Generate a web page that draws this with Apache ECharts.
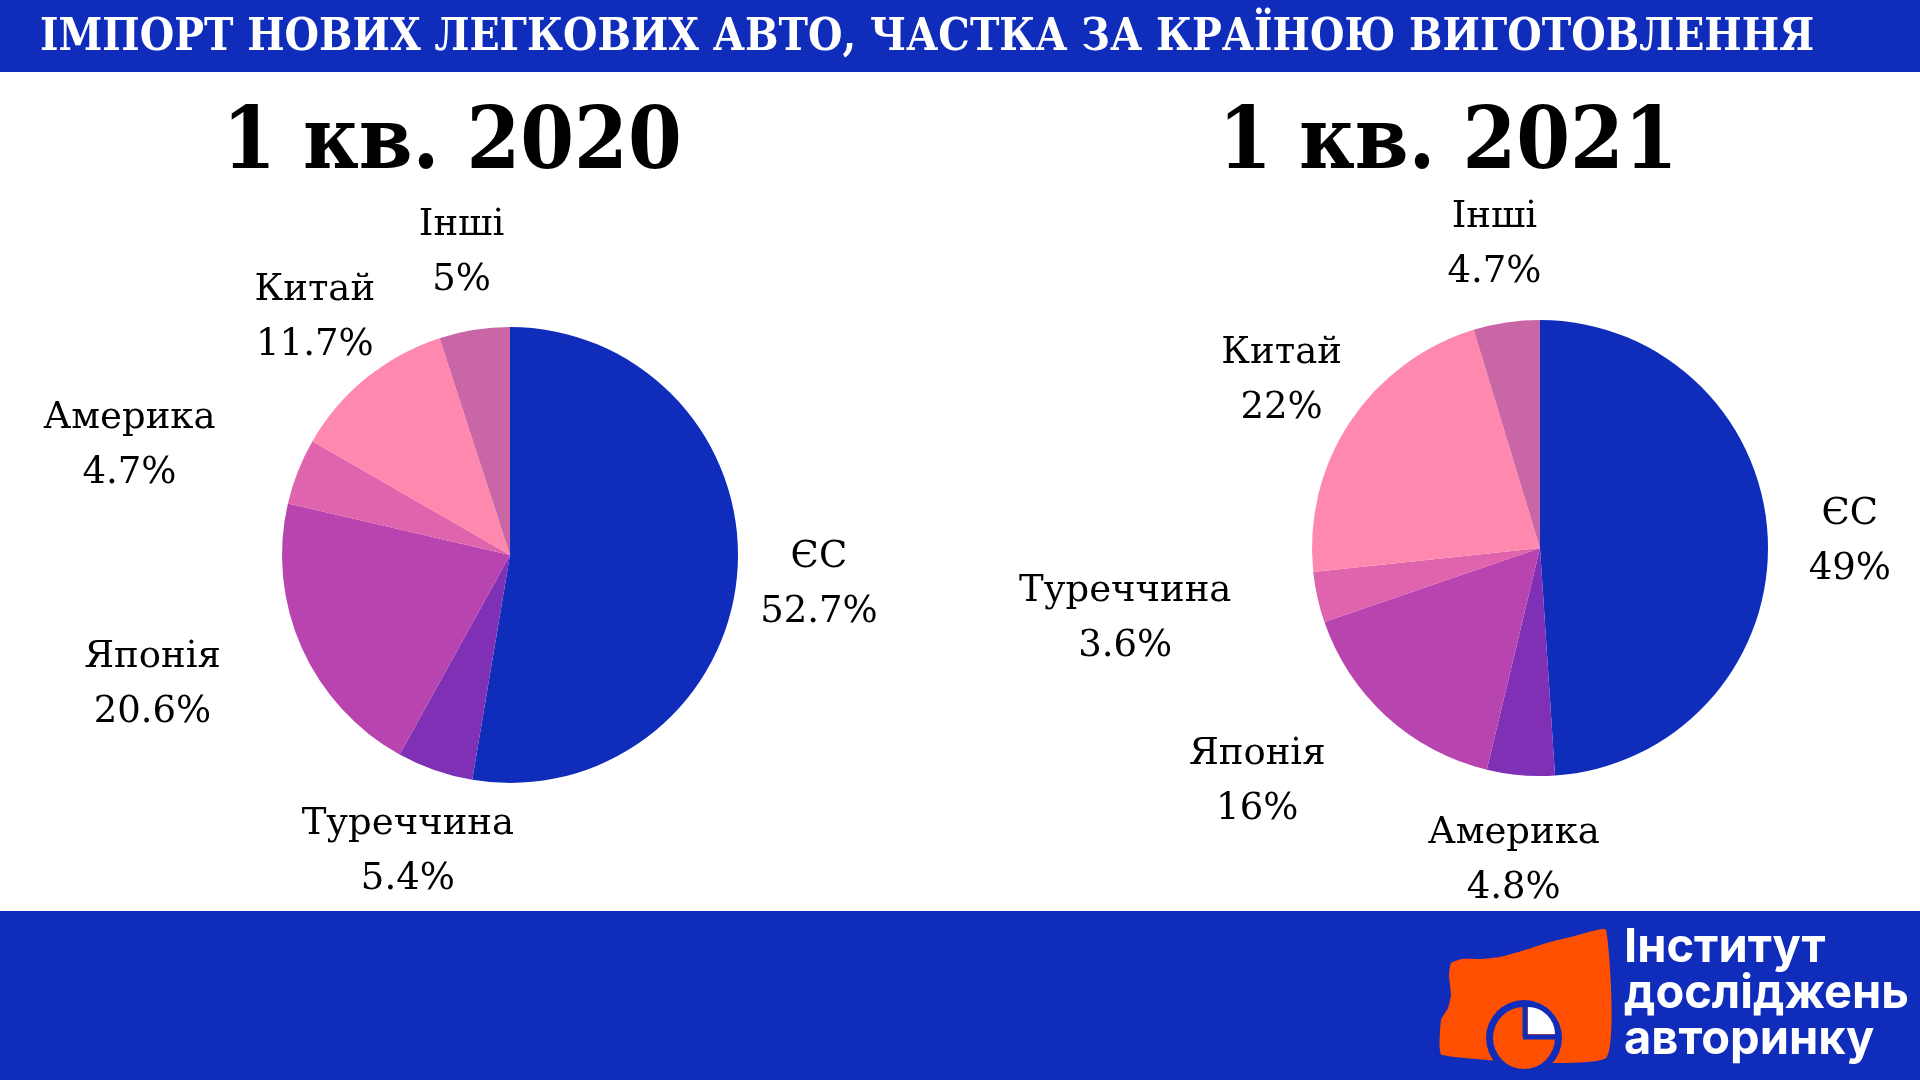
<!DOCTYPE html>
<html>
<head>
<meta charset="utf-8">
<script src="https://cdn.jsdelivr.net/npm/echarts@6/dist/echarts.min.js"></script>
<style>
html,body{margin:0;padding:0;background:#ffffff;}
#chart{width:1920px;height:1080px;}
</style>
</head>
<body>
<div id="chart"></div>
<script>
// ---- data ----
const mainTitle = 'ІМПОРТ НОВИХ ЛЕГКОВИХ АВТО, ЧАСТКА ЗА КРАЇНОЮ ВИГОТОВЛЕННЯ';
const periodTitles = ['1 кв. 2020', '1 кв. 2021'];
const regions2020 = ['ЄС', 'Туреччина', 'Японія', 'Америка', 'Китай', 'Інші'];
const share2020 = [52.7, 5.4, 20.6, 4.7, 11.7, 5];
const regions2021 = ['ЄС', 'Америка', 'Японія', 'Туреччина', 'Китай', 'Інші'];
const share2021 = [49, 4.8, 16, 3.6, 22, 4.7];
const logoLines = ['Інститут', 'досліджень', 'авторинку'];

// ---- styles ----
const sliceColors = ['#0f2cbb', '#7f30b5', '#b844b0', '#df63ad', '#ff88ae', '#c966a6'];
const BLUE = '#0f2cbb';
const ORANGE = '#fe5000';
const pieCenters = [[510, 555], [1540, 548]];
const pieR = 228;
const labelDist = 310;
const labelFont = "'DejaVu Serif', 'Liberation Serif', serif";

const seriesData = [
  regions2020.map((n, i) => ({ name: n, value: share2020[i], itemStyle: { color: sliceColors[i] } })),
  regions2021.map((n, i) => ({ name: n, value: share2021[i], itemStyle: { color: sliceColors[i] } }))
];

function fmtPct(v) { return String(v).replace(/\.0$/, '') + '%'; }

function makeLayout(si) {
  const vals = si === 0 ? share2020 : share2021;
  const total = vals.reduce((a, b) => a + b, 0);
  const c = pieCenters[si];
  return function (params) {
    const idx = params.dataIndex;
    let before = 0;
    for (let k = 0; k < idx; k++) before += vals[k];
    const frac = (before + vals[idx] / 2) / total;
    const mid = frac * Math.PI * 2;
    const dx = Math.sin(mid), dy = -Math.cos(mid);
    let cx = c[0] + labelDist * dx;
    const cy = c[1] + labelDist * dy + 4;
    const w = params.labelRect.width;
    const deg = frac * 360;
    // left-side, near-horizontal labels are set flush against their anchor
    if (deg > 210 && deg < 300) cx -= w / 2 + 6;
    return { x: cx, y: cy, align: 'center', verticalAlign: 'middle' };
  };
}

function makeSeries(si) {
  return {
    type: 'pie',
    center: pieCenters[si],
    radius: pieR,
    startAngle: 90,
    clockwise: true,
    avoidLabelOverlap: false,
    silent: true,
    animation: false,
    data: seriesData[si],
    itemStyle: { borderWidth: 0 },
    label: {
      show: true,
      position: 'outside',
      formatter: function (p) { return '{n|' + p.name + '}\n{v|' + fmtPct(p.value) + '}'; },
      rich: {
        n: { fontFamily: labelFont, fontSize: 37, color: '#000', lineHeight: 55, align: 'center' },
        v: { fontFamily: labelFont, fontSize: 37, color: '#000', lineHeight: 55, align: 'center' }
      }
    },
    labelLine: { show: false },
    labelLayout: makeLayout(si)
  };
}

const graphics = [
  { type: 'rect', shape: { x: 0, y: 0, width: 1920, height: 72 }, style: { fill: BLUE }, z: 0 },
  { type: 'rect', shape: { x: 0, y: 911, width: 1920, height: 169 }, style: { fill: BLUE }, z: 0 },
  {
    type: 'text', x: 40, y: 39, z: 2,
    style: {
      text: mainTitle, fill: '#ffffff',
      font: "bold 44px 'DejaVu Serif Condensed', 'DejaVu Serif', serif",
      verticalAlign: 'middle', align: 'left'
    }
  },
  {
    type: 'text', x: 452, y: 146, z: 2,
    style: {
      text: periodTitles[0], fill: '#000',
      font: "bold 86px 'DejaVu Serif Condensed', 'DejaVu Serif', serif",
      verticalAlign: 'middle', align: 'center'
    }
  },
  {
    type: 'text', x: 1448, y: 146, z: 2,
    style: {
      text: periodTitles[1], fill: '#000',
      font: "bold 86px 'DejaVu Serif Condensed', 'DejaVu Serif', serif",
      verticalAlign: 'middle', align: 'center'
    }
  },
  // logo car shape
  {
    type: 'polygon', z: 2,
    shape: {
      points: [[1451, 963], [1462, 959], [1480, 959], [1500, 957], [1525, 950], [1550, 942], [1575, 936], [1606, 930],
        [1606, 1058], [1442, 1055], [1441, 1020], [1448, 1008], [1451, 995], [1449, 975]],
      smooth: 0.15
    },
    style: { fill: ORANGE }
  },
  { type: 'circle', z: 3, shape: { cx: 1524, cy: 1038, r: 38 }, style: { fill: BLUE } },
  { type: 'circle', z: 4, shape: { cx: 1524, cy: 1038, r: 31 }, style: { fill: ORANGE } },
  { type: 'sector', z: 5, shape: { cx: 1528, cy: 1034, r0: 0, r: 27, startAngle: -Math.PI / 2, endAngle: 0, clockwise: true }, style: { fill: '#ffffff' } },
  { type: 'line', z: 6, shape: { x1: 1525, y1: 1006, x2: 1525, y2: 1037 }, style: { stroke: BLUE, lineWidth: 5 } },
  { type: 'line', z: 6, shape: { x1: 1523, y1: 1037, x2: 1557, y2: 1037 }, style: { stroke: BLUE, lineWidth: 5 } }
];

logoLines.forEach((t, i) => {
  graphics.push({
    type: 'text', x: 1624, y: 948 + i * 46, z: 6,
    style: { text: t, fill: '#ffffff', font: "bold 47px Inter, 'Open Sans', sans-serif", verticalAlign: 'middle', align: 'left' }
  });
});

const chart = echarts.init(document.getElementById('chart'), null, { renderer: 'canvas' });
chart.setOption({
  backgroundColor: '#ffffff',
  animation: false,
  graphic: graphics,
  series: [makeSeries(0), makeSeries(1)]
});
</script>
</body>
</html>
